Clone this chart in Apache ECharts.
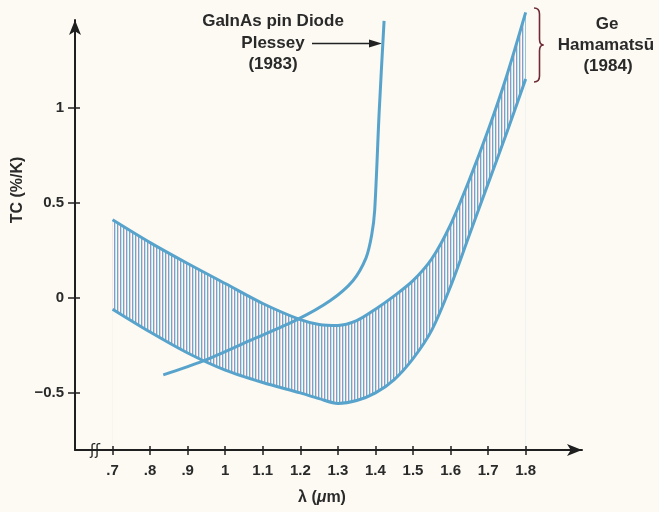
<!DOCTYPE html>
<html>
<head>
<meta charset="utf-8">
<script src="https://cdn.jsdelivr.net/npm/echarts@6/dist/echarts.min.js"></script>
<style>
html,body{margin:0;padding:0;background:#fcfaf3;}
#c{width:659px;height:512px;}
</style>
</head>
<body>
<div id="c"></div>
<script>
// ---- data ----
var geLambda = [0.70, 0.80, 0.90, 1.00, 1.10, 1.20, 1.25, 1.30, 1.35, 1.40, 1.45, 1.50, 1.55, 1.60, 1.65, 1.70, 1.75, 1.80];
var geUpper  = [0.41, 0.29, 0.18, 0.075, -0.03, -0.115, -0.14, -0.145, -0.12, -0.06, 0.01, 0.09, 0.205, 0.385, 0.62, 0.88, 1.17, 1.50];
var geLower  = [-0.06, -0.18, -0.29, -0.38, -0.445, -0.50, -0.53, -0.555, -0.54, -0.50, -0.43, -0.32, -0.17, 0.06, 0.33, 0.60, 0.87, 1.15];
var gainasLambda = [0.835, 0.94, 1.065, 1.19, 1.28, 1.34, 1.375, 1.39, 1.398, 1.41, 1.423];
var gainasTC     = [-0.405, -0.333, -0.225, -0.116, -0.014, 0.09, 0.21, 0.33, 0.46, 0.98, 1.455];
var xTicks = [0.7, 0.8, 0.9, 1.0, 1.1, 1.2, 1.3, 1.4, 1.5, 1.6, 1.7, 1.8];
var xTickLabels = ['.7', '.8', '.9', '1', '1.1', '1.2', '1.3', '1.4', '1.5', '1.6', '1.7', '1.8'];
var yTicks = [-0.5, 0, 0.5, 1];
var yTickLabels = ['\u22120.5', '0', '0.5', '1'];

var chart = echarts.init(document.getElementById('c'), null, {renderer: 'canvas'});

var bg = '#fcfaf3';
// hatch pattern
var pc = document.createElement('canvas');
pc.width = 3; pc.height = 4;
var pctx = pc.getContext('2d');
pctx.fillStyle = bg;
pctx.fillRect(0, 0, 3, 4);
pctx.fillStyle = 'rgba(95,172,212,1)';
pctx.fillRect(0, 0, 1, 4);
pctx.fillStyle = 'rgba(228,176,200,0.6)';
pctx.fillRect(1, 0, 1, 4);

var lineColor = '#58a3cb';
var axisColor = '#1f1f1f';
var font = 'Liberation Sans';

function pairs(xs, ys) { return xs.map(function (x, i) { return [x, ys[i]]; }); }

var xLabelMap = {}; xTicks.forEach(function (v, i) { xLabelMap[v.toFixed(1)] = xTickLabels[i]; });
var yLabelMap = {}; yTicks.forEach(function (v, i) { yLabelMap[v.toFixed(1)] = yTickLabels[i]; });

var XMIN = 0.6, XMAX = 1.95, YMIN = -0.8, YMAX = 1.46;
var braceStyle = {stroke: '#6e2a35', lineWidth: 1.6, fill: 'none'};

var maskSeries = {
  type: 'line', clip: false, z: 3, silent: true,
  data: pairs(geLambda, geLower), smooth: 0.3, showSymbol: false,
  lineStyle: {width: 0, opacity: 0},
  areaStyle: {color: bg, opacity: 1, origin: 'start'}
};

var option = {
  backgroundColor: bg,
  animation: false,
  grid: {left: 75, right: 77, top: 20, bottom: 62, containLabel: false},
  xAxis: [{
    type: 'value', min: XMIN, max: XMAX, position: 'bottom', z: 10,
    axisLine: {onZero: false, lineStyle: {color: axisColor, width: 2}, symbol: ['none', 'arrow'], symbolSize: [9, 15]},
    axisTick: {show: true, length: 5, lineStyle: {color: axisColor, width: 1.5}, customValues: xTicks},
    axisLabel: {customValues: xTicks, margin: 13, color: '#2a2a2a', fontFamily: font, fontWeight: 'bold', fontSize: 15,
      formatter: function (v) { return xLabelMap[v.toFixed(1)] || ''; }},
    splitLine: {show: false}
  }, {
    type: 'value', min: XMIN, max: XMAX, position: 'bottom', z: 10,
    axisLine: {show: false, onZero: false},
    axisTick: {show: true, inside: true, length: 4, lineStyle: {color: axisColor, width: 1.5}, customValues: xTicks},
    axisLabel: {show: false},
    splitLine: {show: false}
  }],
  yAxis: [{
    type: 'value', min: YMIN, max: YMAX, position: 'left', z: 10,
    axisLine: {onZero: false, lineStyle: {color: axisColor, width: 2}, symbol: ['none', 'arrow'], symbolSize: [9, 15]},
    axisTick: {show: true, length: 7, lineStyle: {color: axisColor, width: 1.5}, customValues: yTicks},
    axisLabel: {customValues: yTicks, margin: 11, color: '#2a2a2a', fontFamily: font, fontWeight: 'bold', fontSize: 15,
      formatter: function (v) { return yLabelMap[v.toFixed(1)] || ''; }},
    splitLine: {show: false}
  }, {
    type: 'value', min: YMIN, max: YMAX, position: 'left', z: 10,
    axisLine: {show: false, onZero: false},
    axisTick: {show: true, inside: true, length: 5, lineStyle: {color: axisColor, width: 1.5}, customValues: yTicks},
    axisLabel: {show: false},
    splitLine: {show: false}
  }],
  series: [{
    name: 'Ge upper', type: 'line', clip: false, z: 2,
    data: pairs(geLambda, geUpper), smooth: 0.3, showSymbol: false,
    lineStyle: {color: lineColor, width: 3},
    areaStyle: {color: {image: pc, repeat: 'repeat'}, opacity: 1, origin: 'start'}
  }, maskSeries, Object.assign({}, maskSeries), {
    name: 'Ge lower', type: 'line', clip: false, z: 3,
    data: pairs(geLambda, geLower), smooth: 0.3, showSymbol: false,
    lineStyle: {color: lineColor, width: 3}
  }, {
    name: 'GaInAs pin Diode', type: 'line', clip: false, z: 4,
    data: pairs(gainasLambda, gainasTC), smooth: 0.3, showSymbol: false,
    lineStyle: {color: lineColor, width: 3}
  }],
  graphic: [
    // y axis name
    {type: 'text', x: 18, y: 190, rotation: Math.PI / 2, style: {text: 'TC (%/K)', fill: '#2a2a2a', font: 'bold 16px "Liberation Sans"', align: 'center', verticalAlign: 'middle'}},
    // x axis name
    {type: 'text', x: 322, y: 498, style: {
      text: '{n|\u03bb (}{i|\u03bc}{n|m)}', align: 'center', verticalAlign: 'middle',
      rich: {n: {fill: '#2a2a2a', font: 'bold 16px "Liberation Sans"'}, i: {fill: '#2a2a2a', font: 'italic bold 16px "Liberation Sans"'}}
    }},
    // axis break
    {type: 'text', x: 95, y: 451, z: 20, style: {text: '\u0283\u0283', fill: axisColor, font: '15px "DejaVu Sans"', align: 'center', verticalAlign: 'middle'}},
    // GaInAs annotation
    {type: 'text', x: 273, y: 21, style: {text: 'GaInAs pin Diode', fill: '#2a2a2a', font: 'bold 17px "Liberation Sans"', align: 'center', verticalAlign: 'middle'}},
    {type: 'text', x: 273, y: 43, style: {text: 'Plessey', fill: '#2a2a2a', font: 'bold 17px "Liberation Sans"', align: 'center', verticalAlign: 'middle'}},
    {type: 'text', x: 273, y: 64, style: {text: '(1983)', fill: '#2a2a2a', font: 'bold 17px "Liberation Sans"', align: 'center', verticalAlign: 'middle'}},
    {type: 'line', shape: {x1: 312, y1: 43.5, x2: 374, y2: 43.5}, style: {stroke: '#222', lineWidth: 1.5}},
    {type: 'polygon', shape: {points: [[382, 43.5], [369, 39.5], [369, 47.5]]}, style: {fill: '#222'}},
    // Ge annotation
    {type: 'text', x: 607, y: 24, style: {text: 'Ge', fill: '#2a2a2a', font: 'bold 17px "Liberation Sans"', align: 'center', verticalAlign: 'middle'}},
    {type: 'text', x: 606, y: 45, style: {text: 'Hamamats\u016b', fill: '#2a2a2a', font: 'bold 17px "Liberation Sans"', align: 'center', verticalAlign: 'middle'}},
    {type: 'text', x: 608, y: 66, style: {text: '(1984)', fill: '#2a2a2a', font: 'bold 17px "Liberation Sans"', align: 'center', verticalAlign: 'middle'}},
    // brace
    {type: 'bezierCurve', shape: {x1: 534, y1: 8, cpx1: 539.5, cpy1: 8, x2: 539.5, y2: 14}, style: braceStyle},
    {type: 'line', shape: {x1: 539.5, y1: 14, x2: 539.5, y2: 39}, style: braceStyle},
    {type: 'bezierCurve', shape: {x1: 539.5, y1: 39, cpx1: 539.5, cpy1: 45, x2: 543.5, y2: 45}, style: braceStyle},
    {type: 'bezierCurve', shape: {x1: 543.5, y1: 45, cpx1: 539.5, cpy1: 45, x2: 539.5, y2: 51}, style: braceStyle},
    {type: 'line', shape: {x1: 539.5, y1: 51, x2: 539.5, y2: 76}, style: braceStyle},
    {type: 'bezierCurve', shape: {x1: 539.5, y1: 76, cpx1: 539.5, cpy1: 82, x2: 534, y2: 82}, style: braceStyle}
  ]
};
chart.setOption(option);
</script>
</body>
</html>
